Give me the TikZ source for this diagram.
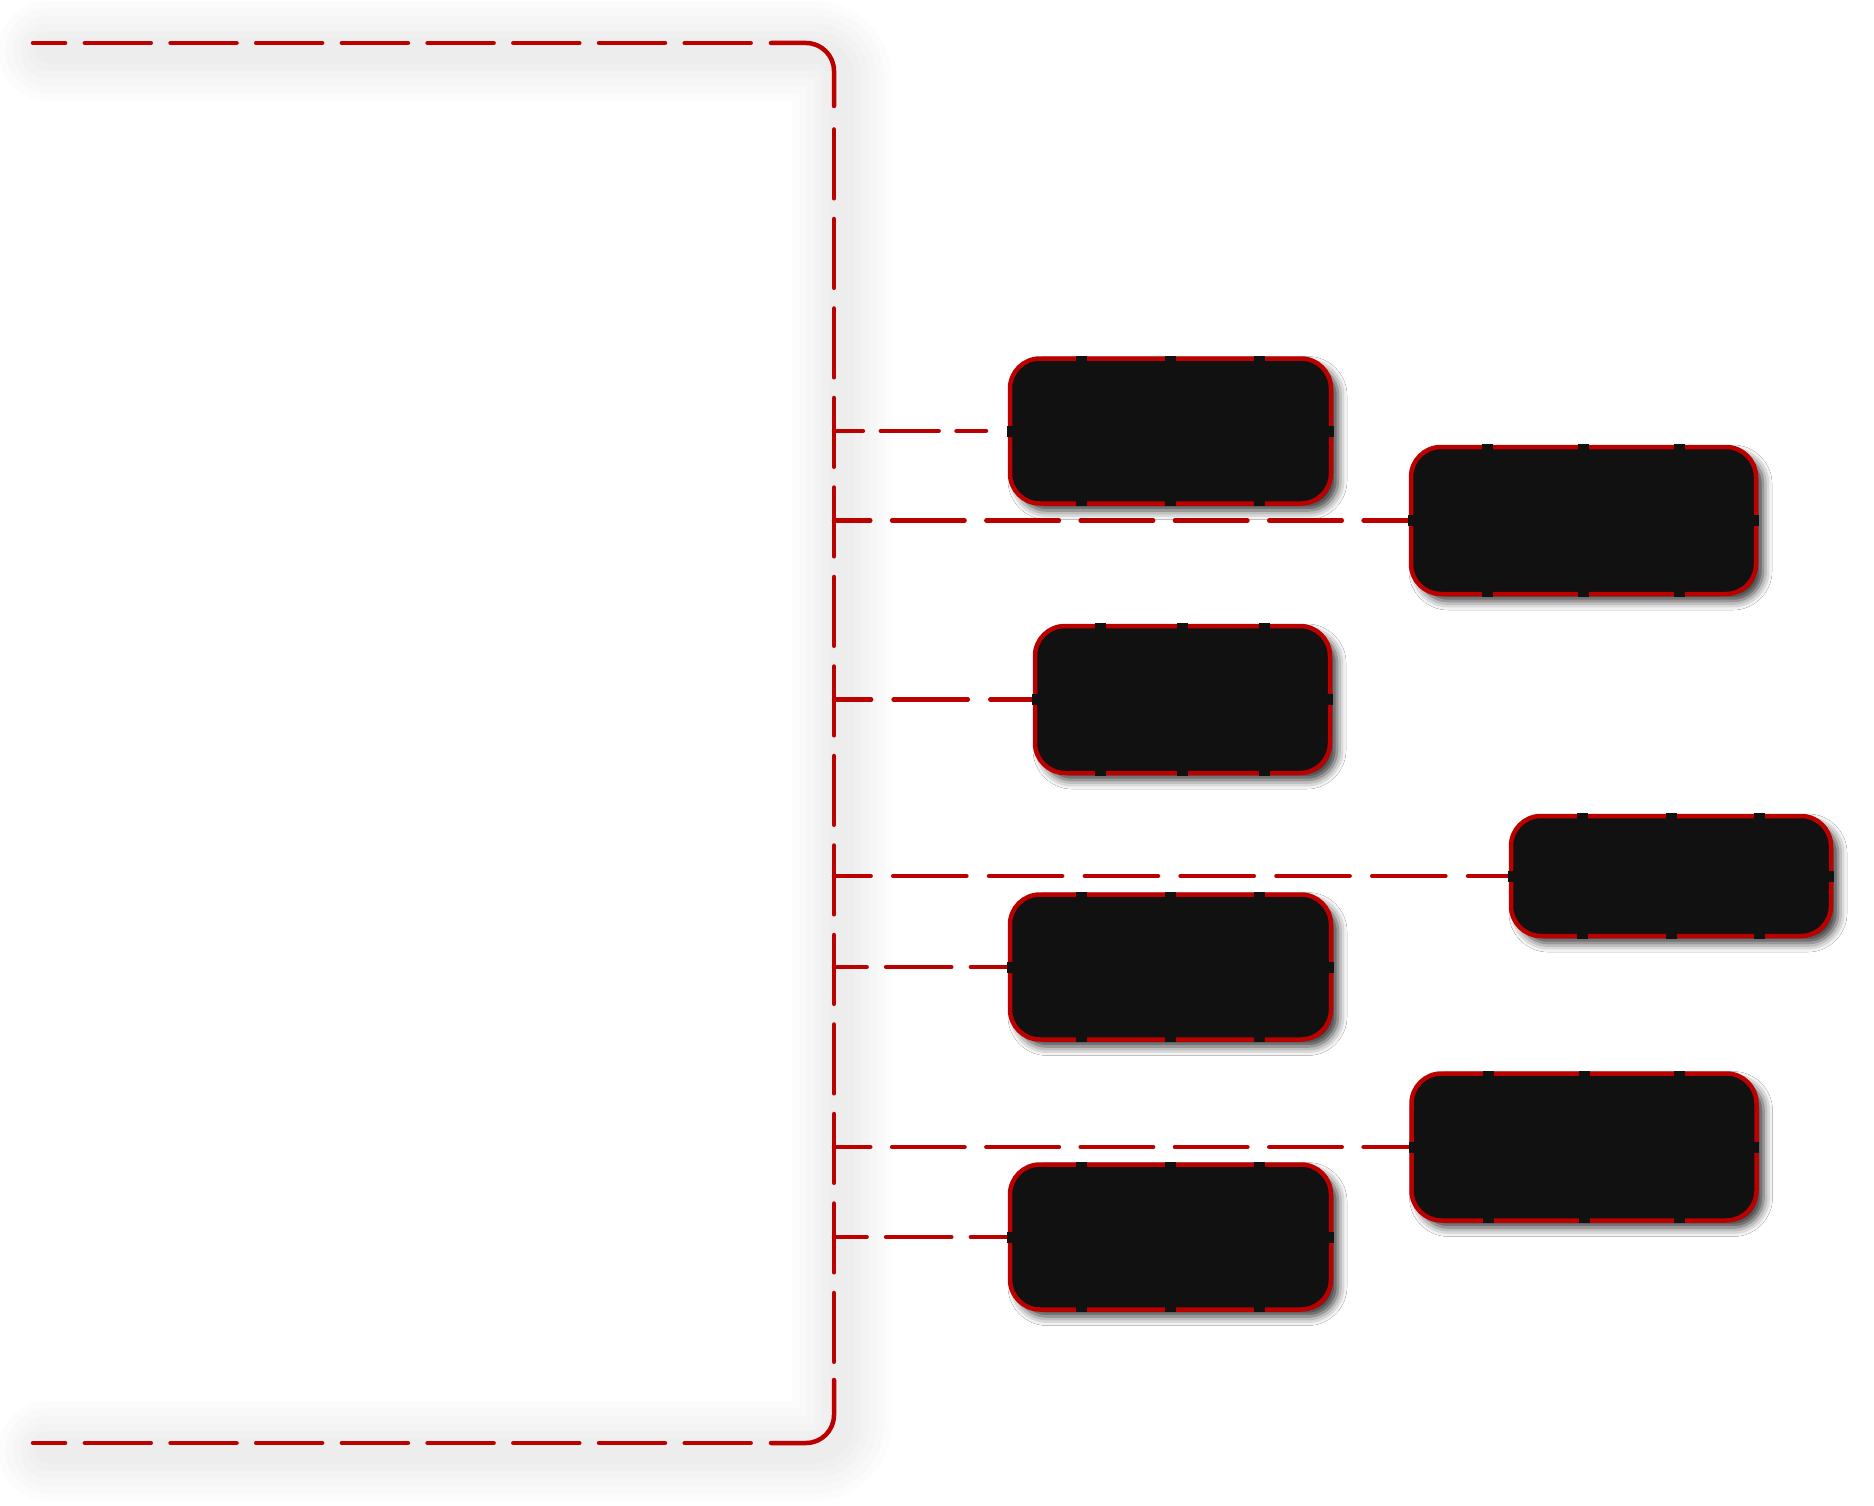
\documentclass[tikz,border=0pt]{standalone}
\usetikzlibrary{calc,shadows.blur}
\definecolor{bred}{HTML}{BB0000}
\definecolor{boxfill}{HTML}{111111}
\pgfdeclarelayer{bg}
\pgfsetlayers{bg,main}
\tikzset{
  redline/.style={draw=bred, line width=4.5pt, line cap=round},
  glow/.style={draw=black, draw opacity=0.01, line cap=round, rounded corners=28pt},
  mbox/.style={rectangle, rounded corners=30pt, fill=boxfill, draw=bred,
    line width=4.5pt, inner sep=0pt, outer sep=0pt,
    blur shadow={shadow xshift=7pt, shadow yshift=-7pt, shadow blur radius=9pt, shadow opacity=80}},
  wbox/.style={mbox, minimum width=321pt, minimum height=145pt},
  widebox/.style={mbox, minimum width=345pt, minimum height=147pt},
}
\newcommand{\mkgaps}[1]{%
  \foreach \t in {0.223,0.5,0.777}{%
    \fill[boxfill] ($(#1.north west)!\t!(#1.north east)$) ++(-5.5,-2.6) rectangle ++(11,5.2);
    \fill[boxfill] ($(#1.south west)!\t!(#1.south east)$) ++(-5.5,-2.6) rectangle ++(11,5.2);
  }
  \fill[boxfill] (#1.west) ++(-2.6,-5.5) rectangle ++(5.2,11);
  \fill[boxfill] (#1.east) ++(-2.6,-5.5) rectangle ++(5.2,11);
}
\begin{document}
\begin{tikzpicture}[x=1pt,y=-1pt]
\useasboundingbox (0,0) rectangle (1874,1506);
% boxes
\node[wbox] (A) at (1170.5,431) {};
\node[widebox] (B) at (1583.5,520.5) {};
\node[mbox, minimum width=295pt, minimum height=147pt] (C) at (1182.5,699.5) {};
\node[mbox, minimum width=320pt, minimum height=120pt] (D) at (1671,876) {};
\node[wbox] (E) at (1170.5,967) {};
\node[widebox] (F) at (1584,1147) {};
\node[wbox] (G) at (1170.5,1237) {};
\mkgaps{A}\mkgaps{B}\mkgaps{C}\mkgaps{D}\mkgaps{E}\mkgaps{F}\mkgaps{G}
\begin{pgfonlayer}{bg}
\fill[white] (0,0) rectangle (1874,1506);
% soft glow of the bracket
\begin{scope}[xshift=8pt,yshift=-8pt]
\foreach \w in {100,85,70,55,40,25}{
  \draw[glow, line width=\w pt] (40,43) -| (834,1443) -- (40,1443);
}
\end{scope}
% bracket
\coordinate (tl) at (33,43);
\coordinate (bl) at (33,1443);
\draw[redline, dash pattern=on 66pt off 19.7pt] (750.7,43) -- (tl);
\draw[redline, dash pattern=on 66pt off 19.7pt] (750.7,1443) -- (bl);
\draw[redline, rounded corners=28pt] (771,43) -| (834,106);
\draw[redline, rounded corners=28pt] (771,1443) -| (834,1380);
\coordinate (vtop) at (834,129.5);
\coordinate (vbot) at (834,1362);
\draw[redline, dash pattern=on 68.8pt off 20.7pt] (vtop) -- (vbot);
% junctions
\coordinate (j1) at (834,431);
\coordinate (j2) at (834,520.5);
\coordinate (j3) at (834,699.5);
\coordinate (j4) at (834,876);
\coordinate (j5) at (834,967);
\coordinate (j6) at (834,1147);
\coordinate (j7) at (834,1237);
% connectors
\draw[redline, dash pattern=on 57.8pt off 17.9pt, dash phase=28.9pt] (j1) -- ([xshift=-24pt]A.west);
\draw[redline, dash pattern=on 72.5pt off 21.8pt, dash phase=36.25pt] (j2) -- (B.west);
\draw[redline, dash pattern=on 74.2pt off 22.5pt, dash phase=37.1pt] (j3) -- (C.west);
\draw[redline, dash pattern=on 73.2pt off 22.6pt, dash phase=36.6pt] (j4) -- (D.west);
\draw[redline, dash pattern=on 65.2pt off 19.5pt, dash phase=32.6pt] (j5) -- (E.west);
\draw[redline, dash pattern=on 72.5pt off 21.8pt, dash phase=36.25pt] (j6) -- (F.west);
\draw[redline, dash pattern=on 65.2pt off 19.5pt, dash phase=32.6pt] (j7) -- (G.west);
\end{pgfonlayer}
\end{tikzpicture}
\end{document}
